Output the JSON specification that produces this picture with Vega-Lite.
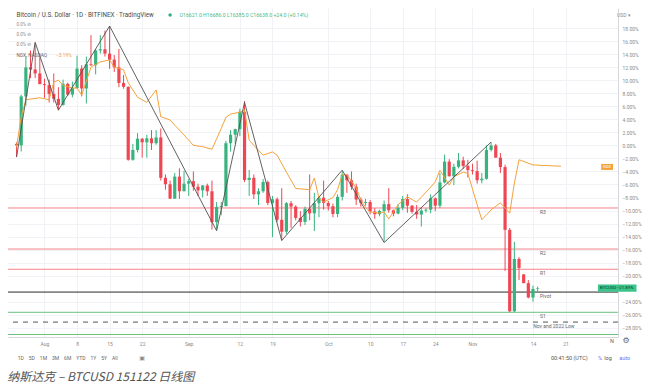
{
  "$schema": "https://vega.github.io/schema/vega-lite/v6.json",
  "width": 610,
  "height": 329,
  "autosize": "none",
  "padding": {"left": 8, "top": 8, "right": 42, "bottom": 50},
  "background": "white",
  "config": {
    "view": {"stroke": null},
    "font": "Roboto",
    "axis": {"labelOverlap": false, "labelBound": false, "labelFlush": false, "ticks": false, "labelFontSize": 5, "labelColor": "#8a8a8a", "domainColor": "#d6d8de", "gridColor": "#f1f2f5", "title": null},
    "axisY": {"labelOverlap": false, "labelPadding": 4, "labelAlign": "left"},
    "axisX": {"labelOverlap": false, "labelPadding": 4}
  },
  "datasets": {
    "candles": [
      {"date":"2022-07-26","open":0.23,"high":0.47,"low":-1.78,"close":0.0},
      {"date":"2022-07-27","open":0.0,"high":7.75,"low":-0.94,"close":7.51},
      {"date":"2022-07-28","open":7.51,"high":13.62,"low":6.10,"close":11.97},
      {"date":"2022-07-29","open":11.97,"high":14.55,"low":10.33,"close":11.64},
      {"date":"2022-07-30","open":11.64,"high":15.73,"low":10.33,"close":11.03},
      {"date":"2022-07-31","open":11.03,"high":13.52,"low":9.39,"close":9.39},
      {"date":"2022-08-01","open":9.39,"high":10.23,"low":7.28,"close":9.25},
      {"date":"2022-08-02","open":9.25,"high":10.09,"low":6.57,"close":7.89},
      {"date":"2022-08-03","open":7.89,"high":11.03,"low":6.57,"close":7.14},
      {"date":"2022-08-04","open":7.14,"high":8.92,"low":5.40,"close":6.20},
      {"date":"2022-08-05","open":6.20,"high":10.09,"low":6.10,"close":9.44},
      {"date":"2022-08-06","open":9.44,"high":9.62,"low":7.61,"close":7.79},
      {"date":"2022-08-07","open":7.79,"high":9.77,"low":7.37,"close":8.80},
      {"date":"2022-08-08","open":8.80,"high":13.76,"low":8.69,"close":11.78},
      {"date":"2022-08-09","open":11.78,"high":12.30,"low":7.51,"close":8.73},
      {"date":"2022-08-10","open":8.73,"high":13.62,"low":6.43,"close":12.44},
      {"date":"2022-08-11","open":12.44,"high":16.90,"low":12.21,"close":12.30},
      {"date":"2022-08-12","open":12.30,"high":14.79,"low":10.89,"close":14.55},
      {"date":"2022-08-13","open":14.55,"high":16.90,"low":14.08,"close":14.74},
      {"date":"2022-08-14","open":14.74,"high":17.61,"low":13.62,"close":14.08},
      {"date":"2022-08-15","open":14.08,"high":18.31,"low":11.74,"close":13.15},
      {"date":"2022-08-16","open":13.15,"high":13.85,"low":11.27,"close":11.97},
      {"date":"2022-08-17","open":11.97,"high":14.79,"low":8.92,"close":9.58},
      {"date":"2022-08-18","open":9.58,"high":10.80,"low":8.69,"close":8.97},
      {"date":"2022-08-19","open":8.97,"high":9.06,"low":-2.35,"close":-2.21},
      {"date":"2022-08-20","open":-2.21,"high":0.23,"low":-2.35,"close":-0.70},
      {"date":"2022-08-21","open":-0.70,"high":1.88,"low":-1.08,"close":1.03},
      {"date":"2022-08-22","open":1.03,"high":1.08,"low":-1.88,"close":0.47},
      {"date":"2022-08-23","open":0.47,"high":1.64,"low":-1.88,"close":1.08},
      {"date":"2022-08-24","open":1.08,"high":2.35,"low":-0.70,"close":0.33},
      {"date":"2022-08-25","open":0.33,"high":2.35,"low":0.09,"close":1.22},
      {"date":"2022-08-26","open":1.22,"high":2.58,"low":-5.40,"close":-4.98},
      {"date":"2022-08-27","open":-4.98,"high":-4.46,"low":-6.81,"close":-5.96},
      {"date":"2022-08-28","open":-5.96,"high":-5.40,"low":-8.22,"close":-8.17},
      {"date":"2022-08-29","open":-8.17,"high":-4.23,"low":-8.22,"close":-4.79},
      {"date":"2022-08-30","open":-4.79,"high":-3.52,"low":-8.22,"close":-7.04},
      {"date":"2022-08-31","open":-7.04,"high":-3.90,"low":-7.04,"close":-5.87},
      {"date":"2022-09-01","open":-5.87,"high":-5.16,"low":-7.75,"close":-5.49},
      {"date":"2022-09-02","open":-5.49,"high":-3.99,"low":-6.96,"close":-6.34},
      {"date":"2022-09-03","open":-6.34,"high":-5.87,"low":-7.75,"close":-6.90},
      {"date":"2022-09-04","open":-6.90,"high":-6.10,"low":-7.98,"close":-6.15},
      {"date":"2022-09-05","open":-6.15,"high":-5.87,"low":-7.75,"close":-7.04},
      {"date":"2022-09-06","open":-7.04,"high":-5.40,"low":-12.91,"close":-11.78},
      {"date":"2022-09-07","open":-11.78,"high":-8.69,"low":-12.91,"close":-9.44},
      {"date":"2022-09-08","open":-9.44,"high":-8.69,"low":-10.70,"close":-9.30},
      {"date":"2022-09-09","open":-9.30,"high":0.70,"low":-9.39,"close":0.33},
      {"date":"2022-09-10","open":0.33,"high":2.35,"low":-0.94,"close":1.64},
      {"date":"2022-09-11","open":1.64,"high":2.58,"low":0.23,"close":2.49},
      {"date":"2022-09-12","open":2.49,"high":5.63,"low":1.41,"close":5.16},
      {"date":"2022-09-13","open":5.16,"high":6.81,"low":-5.63,"close":-5.31},
      {"date":"2022-09-14","open":-5.31,"high":-3.76,"low":-7.75,"close":-4.98},
      {"date":"2022-09-15","open":-4.98,"high":-4.46,"low":-8.22,"close":-7.51},
      {"date":"2022-09-16","open":-7.51,"high":-6.57,"low":-9.15,"close":-7.04},
      {"date":"2022-09-17","open":-7.04,"high":-5.16,"low":-7.28,"close":-5.63},
      {"date":"2022-09-18","open":-5.63,"high":-5.40,"low":-9.15,"close":-8.83},
      {"date":"2022-09-19","open":-8.83,"high":-7.75,"low":-14.08,"close":-8.26},
      {"date":"2022-09-20","open":-8.26,"high":-7.98,"low":-11.74,"close":-11.41},
      {"date":"2022-09-21","open":-11.41,"high":-6.57,"low":-14.55,"close":-13.24},
      {"date":"2022-09-22","open":-13.24,"high":-8.69,"low":-13.62,"close":-8.87},
      {"date":"2022-09-23","open":-8.87,"high":-8.54,"low":-12.68,"close":-9.39},
      {"date":"2022-09-24","open":-9.39,"high":-9.20,"low":-11.50,"close":-11.13},
      {"date":"2022-09-25","open":-11.13,"high":-10.09,"low":-12.44,"close":-11.74},
      {"date":"2022-09-26","open":-11.74,"high":-9.39,"low":-12.21,"close":-9.72},
      {"date":"2022-09-27","open":-9.72,"high":-4.46,"low":-11.50,"close":-10.42},
      {"date":"2022-09-28","open":-10.42,"high":-7.28,"low":-13.15,"close":-8.87},
      {"date":"2022-09-29","open":-8.87,"high":-7.75,"low":-11.03,"close":-8.03},
      {"date":"2022-09-30","open":-8.03,"high":-5.40,"low":-9.86,"close":-8.83},
      {"date":"2022-10-01","open":-8.83,"high":-8.54,"low":-10.00,"close":-9.34},
      {"date":"2022-10-02","open":-9.34,"high":-8.92,"low":-11.03,"close":-10.52},
      {"date":"2022-10-03","open":-10.52,"high":-7.51,"low":-11.03,"close":-7.89},
      {"date":"2022-10-04","open":-7.89,"high":-3.99,"low":-8.45,"close":-4.51},
      {"date":"2022-10-05","open":-4.51,"high":-4.37,"low":-7.28,"close":-5.35},
      {"date":"2022-10-06","open":-5.35,"high":-3.99,"low":-6.81,"close":-6.34},
      {"date":"2022-10-07","open":-6.34,"high":-5.87,"low":-9.15,"close":-8.31},
      {"date":"2022-10-08","open":-8.31,"high":-7.98,"low":-9.39,"close":-8.83},
      {"date":"2022-10-09","open":-8.83,"high":-8.22,"low":-9.25,"close":-8.69},
      {"date":"2022-10-10","open":-8.69,"high":-8.36,"low":-10.56,"close":-10.14},
      {"date":"2022-10-11","open":-10.14,"high":-9.62,"low":-11.27,"close":-10.56},
      {"date":"2022-10-12","open":-10.56,"high":-9.86,"low":-10.89,"close":-10.05},
      {"date":"2022-10-13","open":-10.05,"high":-8.45,"low":-14.79,"close":-9.01},
      {"date":"2022-10-14","open":-9.01,"high":-6.57,"low":-10.33,"close":-9.95},
      {"date":"2022-10-15","open":-9.95,"high":-9.86,"low":-10.89,"close":-10.47},
      {"date":"2022-10-16","open":-10.47,"high":-9.01,"low":-10.56,"close":-9.58},
      {"date":"2022-10-17","open":-9.58,"high":-7.75,"low":-9.95,"close":-8.22},
      {"date":"2022-10-18","open":-8.22,"high":-7.51,"low":-10.33,"close":-9.25},
      {"date":"2022-10-19","open":-9.25,"high":-9.15,"low":-10.47,"close":-10.19},
      {"date":"2022-10-20","open":-10.19,"high":-9.15,"low":-11.27,"close":-10.61},
      {"date":"2022-10-21","open":-10.61,"high":-9.62,"low":-12.44,"close":-10.00},
      {"date":"2022-10-22","open":-10.00,"high":-9.62,"low":-10.33,"close":-9.86},
      {"date":"2022-10-23","open":-9.86,"high":-7.51,"low":-10.42,"close":-8.12},
      {"date":"2022-10-24","open":-8.12,"high":-7.98,"low":-10.09,"close":-9.25},
      {"date":"2022-10-25","open":-9.25,"high":-4.23,"low":-9.62,"close":-5.68},
      {"date":"2022-10-26","open":-5.68,"high":-1.41,"low":-5.82,"close":-2.49},
      {"date":"2022-10-27","open":-2.49,"high":-2.11,"low":-4.77,"close":-4.74},
      {"date":"2022-10-28","open":-4.74,"high":-2.82,"low":-6.10,"close":-3.29},
      {"date":"2022-10-29","open":-3.29,"high":-1.17,"low":-3.52,"close":-2.30},
      {"date":"2022-10-30","open":-2.30,"high":-1.74,"low":-3.62,"close":-3.15},
      {"date":"2022-10-31","open":-3.15,"high":-2.21,"low":-4.93,"close":-3.80},
      {"date":"2022-11-01","open":-3.80,"high":-2.82,"low":-4.46,"close":-3.95},
      {"date":"2022-11-02","open":-3.95,"high":-2.35,"low":-5.87,"close":-5.35},
      {"date":"2022-11-03","open":-5.35,"high":-4.23,"low":-5.82,"close":-5.12},
      {"date":"2022-11-04","open":-5.12,"high":0.00,"low":-5.26,"close":-0.70},
      {"date":"2022-11-05","open":-0.70,"high":0.50,"low":-0.94,"close":0.00},
      {"date":"2022-11-06","open":0.00,"high":0.23,"low":-1.88,"close":-1.88},
      {"date":"2022-11-07","open":-1.88,"high":-1.17,"low":-4.23,"close":-3.33},
      {"date":"2022-11-08","open":-3.33,"high":-2.96,"low":-19.25,"close":-12.96},
      {"date":"2022-11-09","open":-12.96,"high":-12.68,"low":-25.60,"close":-25.45},
      {"date":"2022-11-10","open":-25.45,"high":-14.79,"low":-25.60,"close":-17.42},
      {"date":"2022-11-11","open":-17.42,"high":-17.14,"low":-20.66,"close":-18.80},
      {"date":"2022-11-12","open":-19.80,"high":-19.72,"low":-21.13,"close":-21.13},
      {"date":"2022-11-13","open":-21.13,"high":-20.66,"low":-23.47,"close":-23.33},
      {"date":"2022-11-14","open":-23.33,"high":-21.50,"low":-24.00,"close":-22.02},
      {"date":"2022-11-15","open":-21.97,"high":-21.66,"low":-22.60,"close":-21.89}
    ],
    "ndx": [
      {"date":"2022-07-26","pct":-0.2},{"date":"2022-07-27","pct":4.4},{"date":"2022-07-28","pct":7.0},
      {"date":"2022-07-31","pct":7.3},{"date":"2022-08-02","pct":7.0},{"date":"2022-08-03","pct":9.7},
      {"date":"2022-08-04","pct":10.0},{"date":"2022-08-05","pct":9.2},{"date":"2022-08-07","pct":8.8},
      {"date":"2022-08-08","pct":8.8},{"date":"2022-08-09","pct":7.7},{"date":"2022-08-11","pct":12.0},
      {"date":"2022-08-13","pct":12.8},{"date":"2022-08-15","pct":13.1},{"date":"2022-08-16","pct":12.0},
      {"date":"2022-08-18","pct":11.6},{"date":"2022-08-19","pct":9.6},{"date":"2022-08-21","pct":7.4},
      {"date":"2022-08-23","pct":6.6},{"date":"2022-08-25","pct":8.5},{"date":"2022-08-26","pct":4.4},
      {"date":"2022-08-28","pct":3.9},{"date":"2022-08-29","pct":3.1},{"date":"2022-08-31","pct":1.6},
      {"date":"2022-09-02","pct":0.0},{"date":"2022-09-04","pct":-0.2},{"date":"2022-09-06","pct":-0.6},
      {"date":"2022-09-07","pct":1.0},{"date":"2022-09-08","pct":2.6},{"date":"2022-09-09","pct":4.3},
      {"date":"2022-09-10","pct":4.8},{"date":"2022-09-12","pct":5.1},{"date":"2022-09-13","pct":5.4},
      {"date":"2022-09-14","pct":0.8},{"date":"2022-09-15","pct":0.0},{"date":"2022-09-17","pct":-1.5},
      {"date":"2022-09-19","pct":-1.0},{"date":"2022-09-20","pct":-1.5},{"date":"2022-09-22","pct":-4.1},
      {"date":"2022-09-24","pct":-6.6},{"date":"2022-09-27","pct":-6.8},{"date":"2022-09-28","pct":-5.0},
      {"date":"2022-09-29","pct":-8.1},{"date":"2022-09-30","pct":-8.7},{"date":"2022-10-02","pct":-8.0},
      {"date":"2022-10-03","pct":-6.8},{"date":"2022-10-04","pct":-4.5},{"date":"2022-10-05","pct":-4.5},
      {"date":"2022-10-07","pct":-6.5},{"date":"2022-10-08","pct":-8.4},{"date":"2022-10-09","pct":-9.5},
      {"date":"2022-10-10","pct":-10.2},{"date":"2022-10-12","pct":-10.4},{"date":"2022-10-13","pct":-10.2},
      {"date":"2022-10-14","pct":-11.3},{"date":"2022-10-16","pct":-9.1},{"date":"2022-10-18","pct":-7.9},
      {"date":"2022-10-20","pct":-8.7},{"date":"2022-10-23","pct":-6.4},{"date":"2022-10-24","pct":-5.6},
      {"date":"2022-10-25","pct":-3.8},{"date":"2022-10-27","pct":-6.1},{"date":"2022-10-28","pct":-4.8},
      {"date":"2022-10-30","pct":-4.1},{"date":"2022-10-31","pct":-4.3},{"date":"2022-11-02","pct":-9.1},
      {"date":"2022-11-03","pct":-11.4},{"date":"2022-11-05","pct":-9.9},{"date":"2022-11-07","pct":-8.8},
      {"date":"2022-11-09","pct":-10.4},{"date":"2022-11-10","pct":-5.8},{"date":"2022-11-11","pct":-2.2},
      {"date":"2022-11-14","pct":-3.0},{"date":"2022-11-20","pct":-3.2}
    ],
    "zigzag": [
      {"date":"2022-07-26","pct":-1.8},{"date":"2022-07-30","pct":15.8},{"date":"2022-08-04","pct":5.4},
      {"date":"2022-08-15","pct":18.3},{"date":"2022-09-07","pct":-13.1},{"date":"2022-09-13","pct":6.6},
      {"date":"2022-09-21","pct":-14.6},{"date":"2022-10-04","pct":-3.8},{"date":"2022-10-13","pct":-14.9},
      {"date":"2022-11-05","pct":0.5}
    ],
    "levels": [
      {"level":"R3","pct":-9.6},{"level":"R2","pct":-15.9},{"level":"R1","pct":-19.0},
      {"level":"Pivot","pct":-22.5},{"level":"S1","pct":-25.6},
      {"level":"Nov and 2022 Low","pct":-27.1},{"level":"S2","pct":-29.0}
    ]
  },
  "layer": [
    {
      "data": {"name": "levels"},
      "mark": {"type": "rule", "strokeWidth": 1},
      "encoding": {
        "y": {"field": "pct", "type": "quantitative", "title": null,
          "scale": {"domain": [-29.39, 21.07], "nice": false, "zero": false},
          "axis": {"orient": "right", "tickCount": 60, "values": [18,16,14,12,10,8,6,4,2,0,-2,-4,-6,-8,-10,-12,-14,-16,-18,-20,-24,-26,-28],
            "labelExpr": "format(datum.value, '.2f') + '%'", "labelOverlap": false}},
        "color": {"field": "level", "type": "nominal", "legend": null,
          "scale": {"domain": ["R3","R2","R1","Pivot","S1","Nov and 2022 Low","S2"],
            "range": ["#f5838a","#f5838a","#f5838a","#2a2a2a","#6cc07e","#555555","#6cc07e"]}},
        "strokeDash": {"condition": {"test": "datum.level == 'Nov and 2022 Low'", "value": [5, 5]}, "value": [1, 0]}
      }
    },
    {
      "data": {"name": "candles"},
      "mark": {"type": "rule", "strokeWidth": 1},
      "encoding": {
        "x": {"field": "date", "type": "temporal", "title": null,
          "scale": {"type": "utc", "domain": [{"year":2022,"month":7,"date":25,"hours":5,"minutes":38,"utc":true},{"year":2022,"month":12,"date":1,"hours":4,"minutes":48,"utc":true}]},
          "axis": {"orient": "bottom", "tickCount": 60, "values": [
            {"year":2022,"month":8,"date":1,"utc":true},{"year":2022,"month":8,"date":8,"utc":true},
            {"year":2022,"month":8,"date":15,"utc":true},{"year":2022,"month":8,"date":22,"utc":true},
            {"year":2022,"month":9,"date":1,"utc":true},{"year":2022,"month":9,"date":12,"utc":true},
            {"year":2022,"month":9,"date":19,"utc":true},{"year":2022,"month":10,"date":1,"utc":true},
            {"year":2022,"month":10,"date":10,"utc":true},{"year":2022,"month":10,"date":17,"utc":true},
            {"year":2022,"month":10,"date":24,"utc":true},{"year":2022,"month":11,"date":1,"utc":true},
            {"year":2022,"month":11,"date":14,"utc":true},{"year":2022,"month":11,"date":21,"utc":true}],
            "labelExpr": "utcFormat(datum.value, '%d') == '01' ? utcFormat(datum.value, '%b') : utcFormat(datum.value, '%-d')",
            "labelOverlap": false}},
        "y": {"field": "low", "type": "quantitative", "title": null},
        "y2": {"field": "high"},
        "color": {"condition": {"test": "datum.close >= datum.open", "value": "#37b47e"}, "value": "#ef4653"}
      }
    },
    {
      "data": {"name": "candles"},
      "mark": {"type": "bar", "size": 3.2},
      "encoding": {
        "x": {"field": "date", "type": "temporal", "title": null},
        "y": {"field": "open", "type": "quantitative", "title": null},
        "y2": {"field": "close"},
        "color": {"condition": {"test": "datum.close >= datum.open", "value": "#37b47e"}, "value": "#ef4653"}
      }
    },
    {
      "data": {"name": "ndx"},
      "mark": {"type": "line", "color": "#f5a23c", "strokeWidth": 1},
      "encoding": {
        "x": {"field": "date", "type": "temporal", "title": null},
        "y": {"field": "pct", "type": "quantitative", "title": null}
      }
    },
    {
      "data": {"name": "zigzag"},
      "mark": {"type": "line", "color": "#505050", "strokeWidth": 0.9},
      "encoding": {
        "x": {"field": "date", "type": "temporal", "title": null},
        "y": {"field": "pct", "type": "quantitative", "title": null}
      }
    },
    {
      "data": {"name": "levels"},
      "transform": [{"filter": "datum.level != 'S2' && datum.level != 'Nov and 2022 Low'"}],
      "mark": {"type": "text", "fontSize": 5, "color": "#666", "align": "left", "baseline": "top", "dy": 2},
      "encoding": {
        "x": {"datum": {"year":2022,"month":11,"date":15,"hours":12,"utc":true}, "type": "temporal", "title": null},
        "y": {"field": "pct", "type": "quantitative", "title": null},
        "text": {"field": "level"}
      }
    },
    {
      "data": {"name": "levels"},
      "transform": [{"filter": "datum.level == 'Nov and 2022 Low'"}],
      "mark": {"type": "text", "fontSize": 5, "color": "#666", "align": "center", "baseline": "top", "dy": 2},
      "encoding": {
        "x": {"datum": {"year":2022,"month":11,"date":18,"hours":12,"utc":true}, "type": "temporal", "title": null},
        "y": {"field": "pct", "type": "quantitative", "title": null},
        "text": {"field": "level"}
      }
    },
    {
      "data": {"values": [{}]},
      "mark": {"type": "text", "text": "Bitcoin / U.S. Dollar · 1D · BITFINEX · TradingView", "fontSize": 6.3, "color": "#4a4a4a", "align": "left", "baseline": "middle"},
      "encoding": {"x": {"datum": {"year":2022,"month":7,"date":26,"hours":0,"utc":true}, "type": "temporal", "title": null}, "y": {"datum": 20.0, "type": "quantitative", "title": null}}
    },
    {
      "data": {"values": [{}]},
      "mark": {"type": "point", "filled": true, "size": 12, "color": "#2fb07a", "opacity": 1},
      "encoding": {"x": {"datum": {"year":2022,"month":8,"date":28,"utc":true}, "type": "temporal", "title": null}, "y": {"datum": 20.0, "type": "quantitative", "title": null}}
    },
    {
      "data": {"values": [{}]},
      "mark": {"type": "text", "text": "O16621.0 H16686.0 L16385.0 C16638.0 +24.0 (+0.14%)", "fontSize": 5.2, "color": "#47b888", "align": "left", "baseline": "middle"},
      "encoding": {"x": {"datum": {"year":2022,"month":8,"date":30,"utc":true}, "type": "temporal", "title": null}, "y": {"datum": 20.0, "type": "quantitative", "title": null}}
    },
    {
      "data": {"values": [{"t": "0.0%  ⊘", "p": 18.47}, {"t": "0.0%  ⊘", "p": 16.93}, {"t": "0.0%  ⊘", "p": 15.4}]},
      "mark": {"type": "text", "fontSize": 4.5, "color": "#8a8a8a", "align": "left", "baseline": "middle"},
      "encoding": {"x": {"datum": {"year":2022,"month":7,"date":26,"hours":0,"utc":true}, "type": "temporal", "title": null}, "y": {"field": "p", "type": "quantitative", "title": null}, "text": {"field": "t"}}
    },
    {
      "data": {"values": [{}]},
      "mark": {"type": "text", "text": "NDX, NASDAQ", "fontSize": 4.8, "color": "#666", "align": "left", "baseline": "middle"},
      "encoding": {"x": {"datum": {"year":2022,"month":7,"date":26,"hours":0,"utc":true}, "type": "temporal", "title": null}, "y": {"datum": 13.7, "type": "quantitative", "title": null}}
    },
    {
      "data": {"values": [{}]},
      "mark": {"type": "text", "text": "−3.19%", "fontSize": 4.8, "color": "#f5a23c", "align": "left", "baseline": "middle"},
      "encoding": {"x": {"datum": {"year":2022,"month":8,"date":3,"hours":12,"utc":true}, "type": "temporal", "title": null}, "y": {"datum": 13.7, "type": "quantitative", "title": null}}
    },
    {
      "data": {"values": [{}]},
      "mark": {"type": "text", "text": "USD ▾", "fontSize": 5, "color": "#8a8a8a", "align": "left", "baseline": "middle"},
      "encoding": {"x": {"datum": {"year":2022,"month":12,"date":2,"hours":1,"utc":true}, "type": "temporal", "title": null}, "y": {"datum": 20.0, "type": "quantitative", "title": null}}
    },
    {
      "data": {"values": [{}]},
      "mark": {"type": "rect", "color": "#f5a23c"},
      "encoding": {
        "x": {"datum": {"year":2022,"month":11,"date":28,"hours":16,"utc":true}, "type": "temporal", "title": null},
        "x2": {"datum": {"year":2022,"month":12,"date":1,"hours":5,"utc":true}},
        "y": {"datum": -2.85, "type": "quantitative", "title": null}, "y2": {"datum": -3.77}}
    },
    {
      "data": {"values": [{}]},
      "mark": {"type": "text", "text": "NDX", "fontSize": 4, "color": "white", "align": "center", "baseline": "middle"},
      "encoding": {"x": {"datum": {"year":2022,"month":11,"date":29,"hours":22,"utc":true}, "type": "temporal", "title": null}, "y": {"datum": -3.31, "type": "quantitative", "title": null}}
    },
    {
      "data": {"values": [{}]},
      "mark": {"type": "rect", "color": "#3cc48a"},
      "encoding": {
        "x": {"datum": {"year":2022,"month":11,"date":27,"hours":23,"utc":true}, "type": "temporal", "title": null},
        "x2": {"datum": {"year":2022,"month":12,"date":6,"hours":6,"utc":true}},
        "y": {"datum": -21.35, "type": "quantitative", "title": null}, "y2": {"datum": -22.45}}
    },
    {
      "data": {"values": [{"t": "BTCUSD", "d": "2022-11-28T10:00Z"}, {"t": "−21.89%", "d": "2022-12-02T01:00Z"}]},
      "mark": {"type": "text", "fontSize": 4.3, "color": "#0d3b2a", "align": "left", "baseline": "middle"},
      "encoding": {"x": {"field": "d", "type": "temporal", "title": null}, "y": {"datum": -21.9, "type": "quantitative", "title": null}, "text": {"field": "t"}}
    },
    {
      "data": {"values": [{}]},
      "mark": {"type": "text", "text": "N", "fontSize": 5.5, "color": "#666", "align": "center", "baseline": "middle"},
      "encoding": {"x": {"datum": {"year":2022,"month":12,"date":1,"utc":true}, "type": "temporal", "title": null}, "y": {"datum": -30.0, "type": "quantitative", "title": null}}
    },
    {
      "data": {"values": [{}]},
      "mark": {"type": "text", "text": "⚙", "fontSize": 8, "font": "DejaVu Sans", "color": "#666", "align": "center", "baseline": "middle"},
      "encoding": {"x": {"datum": {"year":2022,"month":12,"date":4,"utc":true}, "type": "temporal", "title": null}, "y": {"datum": -30.0, "type": "quantitative", "title": null}}
    },
    {
      "data": {"values": [{}]},
      "mark": {"type": "text", "text": "1D\u00a0\u00a0\u00a0\u00a05D\u00a0\u00a0\u00a0\u00a01M\u00a0\u00a0\u00a0\u00a03M\u00a0\u00a0\u00a0\u00a06M\u00a0\u00a0\u00a0\u00a0YTD\u00a0\u00a0\u00a0\u00a01Y\u00a0\u00a0\u00a0\u00a05Y\u00a0\u00a0\u00a0\u00a0All", "fontSize": 5, "color": "#666", "align": "left", "baseline": "middle"},
      "encoding": {"x": {"datum": {"year":2022,"month":7,"date":26,"hours":6,"utc":true}, "type": "temporal", "title": null}, "y": {"datum": -32.61, "type": "quantitative", "title": null}}
    },
    {
      "data": {"values": [{}]},
      "mark": {"type": "text", "text": "▣", "fontSize": 6, "font": "DejaVu Sans", "color": "#888", "align": "center", "baseline": "middle"},
      "encoding": {"x": {"datum": {"year":2022,"month":8,"date":22,"hours":0,"utc":true}, "type": "temporal", "title": null}, "y": {"datum": -32.61, "type": "quantitative", "title": null}}
    },
    {
      "data": {"values": [{}]},
      "mark": {"type": "text", "text": "00:41:50 (UTC)", "fontSize": 5.5, "color": "#555", "align": "center", "baseline": "middle"},
      "encoding": {"x": {"datum": {"year":2022,"month":11,"date":21,"hours":19,"utc":true}, "type": "temporal", "title": null}, "y": {"datum": -32.61, "type": "quantitative", "title": null}}
    },
    {
      "data": {"values": [{"t": "%", "d": "2022-11-28T10:00Z"}, {"t": "auto", "d": "2022-12-03T17:00Z"}]},
      "mark": {"type": "text", "fontSize": 5.5, "color": "#5b7cf0", "align": "center", "baseline": "middle"},
      "encoding": {"x": {"field": "d", "type": "temporal", "title": null}, "y": {"datum": -32.61, "type": "quantitative", "title": null}, "text": {"field": "t"}}
    },
    {
      "data": {"values": [{}]},
      "mark": {"type": "text", "text": "log", "fontSize": 5.5, "color": "#555", "align": "center", "baseline": "middle"},
      "encoding": {"x": {"datum": {"year":2022,"month":11,"date":30,"hours":3,"utc":true}, "type": "temporal", "title": null}, "y": {"datum": -32.61, "type": "quantitative", "title": null}}
    },
    {
      "data": {"values": [{}]},
      "mark": {"type": "text", "text": "纳斯达克 – BTCUSD 151122 日线图", "fontSize": 12, "font": "Noto Sans CJK SC", "fontStyle": "italic", "color": "#555", "align": "left", "baseline": "middle"},
      "encoding": {"x": {"datum": {"year":2022,"month":7,"date":24,"hours":0,"utc":true}, "type": "temporal", "title": null}, "y": {"datum": -35.52, "type": "quantitative", "title": null}}
    }
  ]
}
